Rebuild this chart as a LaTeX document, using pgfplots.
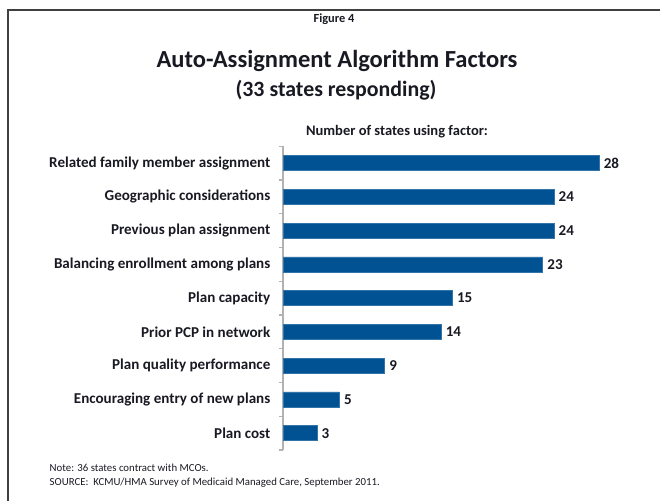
\documentclass[border=0pt]{standalone}
\usepackage{fontspec}
\setmainfont{Carlito}
\usepackage{pgfplots}
\pgfplotsset{compat=1.18}
\definecolor{barblue}{RGB}{0,82,147}
\definecolor{txt}{RGB}{25,25,35}
\begin{document}
\begin{tikzpicture}[x=0.75pt,y=0.75pt]
\useasboundingbox (0,0) rectangle (660,500);
% frame runs off the right and bottom edges
\draw[line width=1.4pt, draw=black!75] (8,490) rectangle (720,-40);
\node[txt, font=\bfseries\fontsize{9.3}{11}\selectfont] at (334,481) {Figure 4};
\node[txt, font=\bfseries\fontsize{18.4}{22}\selectfont] at (337,439) {Auto-Assignment Algorithm Factors};
\node[txt, font=\bfseries\fontsize{16.4}{20}\selectfont] at (336,410) {(33 states responding)};
\node[txt, font=\bfseries\fontsize{10.9}{13}\selectfont] at (397,368) {Number of states using factor:};
\node[txt, anchor=west, font=\fontsize{8.1}{10}\selectfont] at (45,32) {Note: 36 states contract with MCOs.};
\node[txt, anchor=west, font=\fontsize{8.1}{10}\selectfont] at (45,17) {SOURCE:\ \ KCMU/HMA Survey of Medicaid Managed Care, September 2011.};

\begin{axis}[
    at={(212.25pt,37.5pt)}, anchor=south west,
    x=8.4675pt, y=25.3125pt,
    xmin=0, xmax=30, ymin=-0.5, ymax=8.5,
    enlargelimits=false,
    xbar, bar width=11.25pt,
    hide x axis,
    axis y line*=left,
    y axis line style={draw=gray!60, line width=0.8pt, -},
    ytick={0,...,8},
    yticklabels={Plan cost, Encouraging entry of new plans, Plan quality performance,
        Prior PCP in network, Plan capacity, Balancing enrollment among plans,
        Previous plan assignment, Geographic considerations, Related family member assignment},
    minor ytick={-0.5,0.5,...,8.5},
    major tick length=0pt,
    minor tick length=3pt,
    tick align=outside,
    minor tick style={draw=gray!60, line width=0.8pt},
    yticklabel style={txt, font=\bfseries\fontsize{11.3}{13}\selectfont, xshift=-6pt},
    nodes near coords,
    nodes near coords style={txt, font=\bfseries\fontsize{11.3}{13}\selectfont},
    /pgf/number format/assume math mode=true,
    clip=false,
]
\addplot[fill=barblue, draw=barblue!80!white] coordinates {
    (3,0) (5,1) (9,2) (14,3) (15,4) (23,5) (24,6) (24,7) (28,8)
};
\end{axis}
\end{tikzpicture}
\end{document}
